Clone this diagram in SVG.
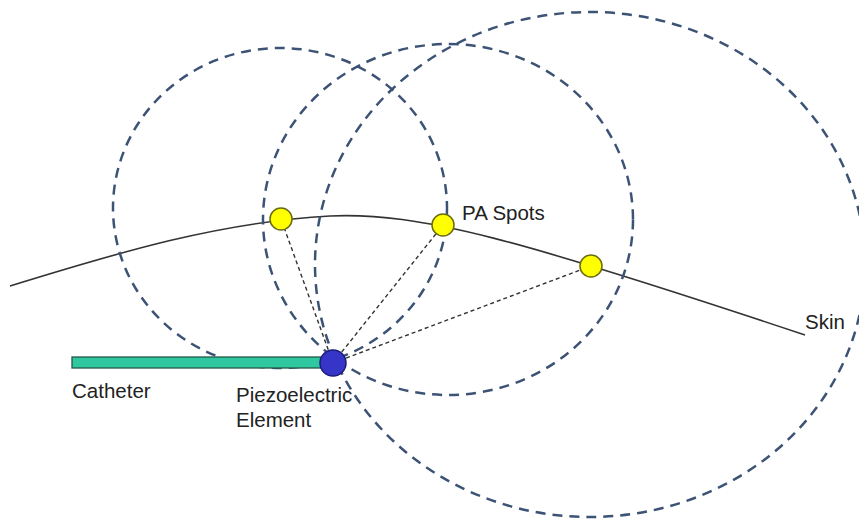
<svg xmlns="http://www.w3.org/2000/svg" width="859" height="521" viewBox="0 0 859 521">
  <style>
    .wave { fill: none; stroke: #3c5375; stroke-width: 2.5; stroke-dasharray: 10 7; }
    .ray { fill: none; stroke: #333; stroke-width: 1.4; stroke-dasharray: 4 3; }
    .skin { fill: none; stroke: #333; stroke-width: 1.6; }
    .spot { fill: #ffff00; stroke: #6b6b10; stroke-width: 1.5; }
    .label { font-family: "Liberation Sans", Arial, sans-serif; font-size: 20.5px; fill: #222; }
  </style>

  <!-- skin surface -->
  <g id="skin">
    <path class="skin" d="M10,286 C120,252 220,222 330,216 C420,212 520,240 805,335"/>
    <text class="label" x="805" y="329">Skin</text>
  </g>

  <!-- acoustic wavefronts -->
  <g id="wavefronts">
    <ellipse class="wave" cx="280" cy="208" rx="167" ry="160"/>
    <ellipse class="wave" cx="448" cy="219.5" rx="185" ry="175.5"/>
    <ellipse class="wave" cx="590" cy="264.5" rx="275" ry="252.5"/>
  </g>

  <!-- propagation paths from the element to each spot -->
  <g id="connectors">
    <line class="ray" x1="333" y1="363" x2="281" y2="219"/>
    <line class="ray" x1="333" y1="363" x2="443" y2="225"/>
    <line class="ray" x1="333" y1="363" x2="591" y2="266"/>
  </g>

  <g id="catheter">
    <rect x="72" y="357" width="262" height="11" fill="#2ec79f" stroke="#24584a" stroke-width="1.3"/>
    <text class="label" x="72" y="398">Catheter</text>
  </g>

  <g id="piezo">
    <circle cx="333" cy="363" r="13" fill="#3535c8" stroke="#1c1c78" stroke-width="1.5"/>
    <text class="label" x="236" y="402">Piezoelectric</text>
    <text class="label" x="236" y="427">Element</text>
  </g>

  <g id="spot1"><circle class="spot" cx="281" cy="219" r="11"/></g>
  <g id="spot2">
    <circle class="spot" cx="443" cy="225" r="11"/>
    <text class="label" x="462" y="220">PA Spots</text>
  </g>
  <g id="spot3"><circle class="spot" cx="591" cy="266" r="11"/></g>
</svg>
